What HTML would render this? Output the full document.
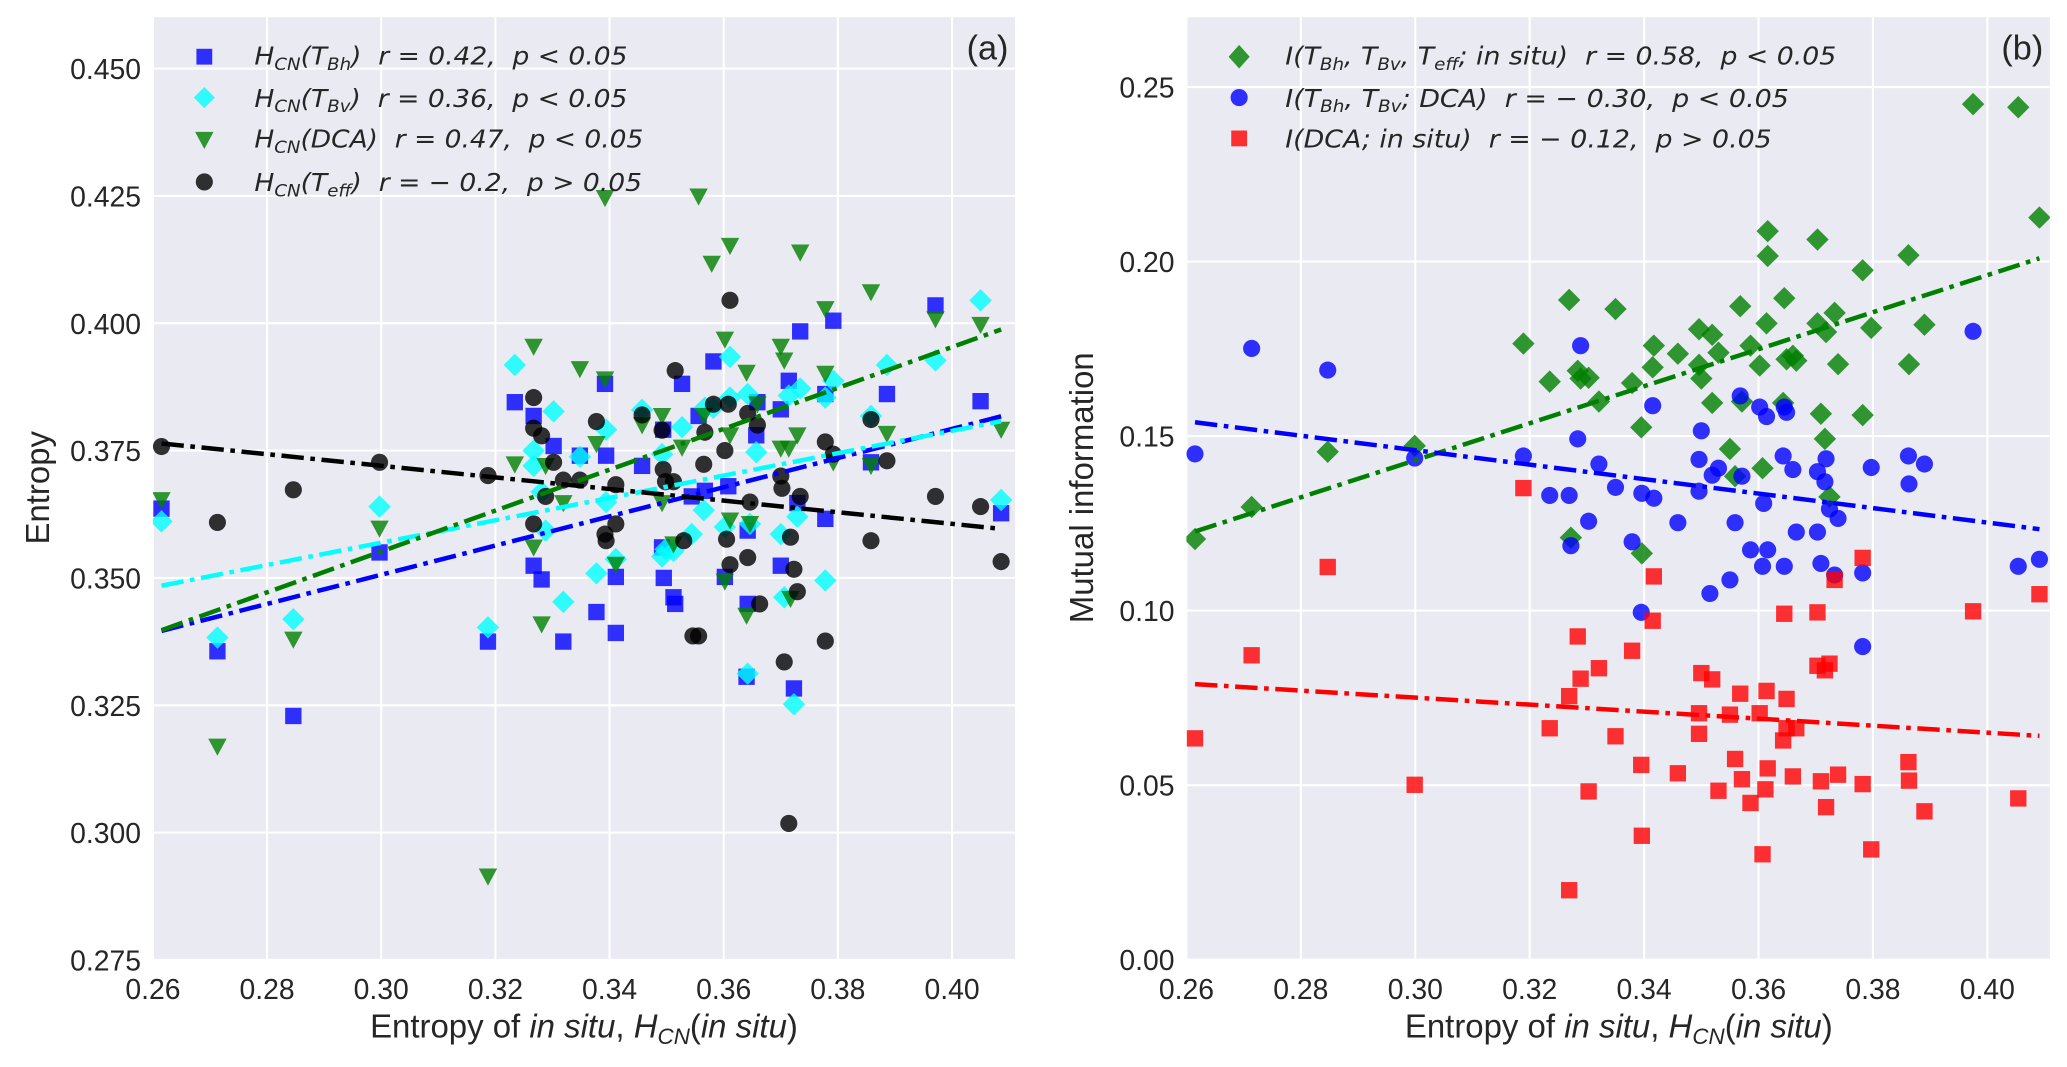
<!DOCTYPE html>
<html><head><meta charset="utf-8">
<style>
html,body{margin:0;padding:0;background:#fff;}
svg{display:block;}
text{font-family:"Liberation Sans",sans-serif;fill:#262626;}
.lg{font-family:"DejaVu Sans","Liberation Sans",sans-serif;font-style:italic;font-size:19px;fill:#262626;white-space:pre;}
.tk{font-size:21.5px;}
.al{font-size:25px;}
</style></head>
<body>
<svg id="fig" width="2067" height="1067" viewBox="0 0 1568 809.4" xmlns="http://www.w3.org/2000/svg">
<defs>
<clipPath id="clipL"><rect x="116" y="13" width="654" height="715"/></clipPath>
<clipPath id="clipR"><rect x="900" y="13" width="655" height="715"/></clipPath>
</defs>
<rect x="116" y="13" width="654" height="715" fill="#eaeaf2"/>
<rect x="900" y="13" width="655" height="715" fill="#eaeaf2"/>
<g id="gridL"></g>
<g id="gridR"></g>
<g id="ticksL"></g>
<g id="ticksR"></g>
<g id="ptsL" clip-path="url(#clipL)"></g>
<g id="ptsR" clip-path="url(#clipR)"></g>
<g id="linesL" clip-path="url(#clipL)"></g>
<g id="linesR" clip-path="url(#clipR)"></g>

<text x="765" y="45" text-anchor="end" font-size="26">(a)</text>
<text x="1550" y="45" text-anchor="end" font-size="26">(b)</text>

<text class="al" x="443" y="787" text-anchor="middle">Entropy of <tspan font-style="italic">in situ</tspan>, <tspan font-style="italic">H</tspan><tspan font-style="italic" font-size="17" dy="5">CN</tspan><tspan dy="-5">(</tspan><tspan font-style="italic">in situ</tspan>)</text>
<text class="al" x="1228" y="787" text-anchor="middle">Entropy of <tspan font-style="italic">in situ</tspan>, <tspan font-style="italic">H</tspan><tspan font-style="italic" font-size="17" dy="5">CN</tspan><tspan dy="-5">(</tspan><tspan font-style="italic">in situ</tspan>)</text>
<text class="al" transform="translate(37,370) rotate(-90)" text-anchor="middle">Entropy</text>
<text class="al" transform="translate(829,370) rotate(-90)" text-anchor="middle">Mutual information</text>

<g>
 <g>
  <rect x="149" y="37" width="12" height="12" fill="#0000ff" fill-opacity="0.8"/>
  <text class="lg" x="193" y="49" textLength="283" lengthAdjust="spacingAndGlyphs">H<tspan font-size="13" dy="4">CN</tspan><tspan dy="-4">(T</tspan><tspan font-size="13" dy="4">Bh</tspan><tspan dy="-4">)&#160;&#160;r = 0.42,&#160;&#160;p &lt; 0.05</tspan></text>
 </g>
 <g>
  <polygon points="155,66 163,74 155,82 147,74" fill="#00ffff" fill-opacity="0.8"/>
  <text class="lg" x="193" y="81" textLength="283" lengthAdjust="spacingAndGlyphs">H<tspan font-size="13" dy="4">CN</tspan><tspan dy="-4">(T</tspan><tspan font-size="13" dy="4">Bv</tspan><tspan dy="-4">)&#160;&#160;r = 0.36,&#160;&#160;p &lt; 0.05</tspan></text>
 </g>
 <g>
  <polygon points="148,100 162,100 155,113" fill="#008000" fill-opacity="0.8"/>
  <text class="lg" x="193" y="112" textLength="295" lengthAdjust="spacingAndGlyphs">H<tspan font-size="13" dy="4">CN</tspan><tspan dy="-4">(DCA)&#160;&#160;r = 0.47,&#160;&#160;p &lt; 0.05</tspan></text>
 </g>
 <g>
  <circle cx="155" cy="138" r="6.5" fill="#000" fill-opacity="0.8"/>
  <text class="lg" x="193" y="145" textLength="294" lengthAdjust="spacingAndGlyphs">H<tspan font-size="13" dy="4">CN</tspan><tspan dy="-4">(T</tspan><tspan font-size="13" dy="4">eff</tspan><tspan dy="-4">)&#160;&#160;r = − 0.2,&#160;&#160;p &gt; 0.05</tspan></text>
 </g>
</g>
<g>
 <g>
  <polygon points="940,34 948,43 940,52 932,43" fill="#008000" fill-opacity="0.8"/>
  <text class="lg" x="975" y="49" textLength="418" lengthAdjust="spacingAndGlyphs">I(T<tspan font-size="13" dy="4">Bh</tspan><tspan dy="-4">, T</tspan><tspan font-size="13" dy="4">Bv</tspan><tspan dy="-4">, T</tspan><tspan font-size="13" dy="4">eff</tspan><tspan dy="-4">; in situ)&#160;&#160;r = 0.58,&#160;&#160;p &lt; 0.05</tspan></text>
 </g>
 <g>
  <circle cx="940" cy="74" r="6.5" fill="#0000ff" fill-opacity="0.8"/>
  <text class="lg" x="975" y="81" textLength="382" lengthAdjust="spacingAndGlyphs">I(T<tspan font-size="13" dy="4">Bh</tspan><tspan dy="-4">, T</tspan><tspan font-size="13" dy="4">Bv</tspan><tspan dy="-4">; DCA)&#160;&#160;r = − 0.30,&#160;&#160;p &lt; 0.05</tspan></text>
 </g>
 <g>
  <rect x="934" y="99" width="12" height="12" fill="#ff0000" fill-opacity="0.8"/>
  <text class="lg" x="975" y="112" textLength="369" lengthAdjust="spacingAndGlyphs">I(DCA; in situ)&#160;&#160;r = − 0.12,&#160;&#160;p &gt; 0.05</text>
 </g>
</g>

<script>
// ---------- Panel (a) data ----------
const xTicksA = [0.26,0.28,0.30,0.32,0.34,0.36,0.38,0.40];
const xTickLabelsA = ["0.26","0.28","0.30","0.32","0.34","0.36","0.38","0.40"];
const yTicksA = [0.275,0.300,0.325,0.350,0.375,0.400,0.425,0.450];
const yTickLabelsA = ["0.275","0.300","0.325","0.350","0.375","0.400","0.425","0.450"];

const tbhX = [0.2615,0.2713,0.2846,0.2997,0.3187,0.3234,0.3267,0.3267,0.3281,0.3302,0.3319,0.3348,0.3377,0.3392,0.3394,0.3411,0.3411,0.3457,0.3492,0.3494,0.3495,0.3512,0.3515,0.3527,0.3556,0.3544,0.3567,0.3582,0.3602,0.3608,0.3642,0.3640,0.3642,0.3657,0.3659,0.3700,0.3700,0.3714,0.3723,0.3729,0.3734,0.3778,0.3778,0.3792,0.3858,0.3886,0.3971,0.4050,0.4086];
const tbhY = [0.3636,0.3356,0.3229,0.3550,0.3375,0.3845,0.3818,0.3524,0.3497,0.3759,0.3375,0.3740,0.3433,0.3881,0.3740,0.3502,0.3392,0.3720,0.3560,0.3791,0.3500,0.3462,0.3449,0.3881,0.3818,0.3660,0.3671,0.3925,0.3502,0.3680,0.3593,0.3306,0.3449,0.3780,0.3845,0.3831,0.3524,0.3887,0.3283,0.3647,0.3984,0.3616,0.3861,0.4005,0.3727,0.3861,0.4035,0.3847,0.3627];

const tbvX = [0.2615,0.2713,0.2846,0.2997,0.3187,0.3234,0.3267,0.3267,0.3281,0.3288,0.3302,0.3319,0.3348,0.3377,0.3394,0.3394,0.3411,0.3457,0.3492,0.3492,0.3498,0.3512,0.3527,0.3544,0.3565,0.3567,0.3582,0.3602,0.3611,0.3611,0.3642,0.3642,0.3646,0.3657,0.3700,0.3706,0.3714,0.3723,0.3729,0.3734,0.3778,0.3778,0.3792,0.3858,0.3886,0.3971,0.4050,0.4086];
const tbvY = [0.3611,0.3383,0.3419,0.3640,0.3403,0.3918,0.3750,0.3720,0.3669,0.3593,0.3827,0.3453,0.3738,0.3509,0.3649,0.3791,0.3537,0.3830,0.3743,0.3542,0.3556,0.3553,0.3796,0.3586,0.3633,0.3834,0.3834,0.3600,0.3934,0.3854,0.3861,0.3312,0.3606,0.3747,0.3586,0.3462,0.3858,0.3252,0.3620,0.3872,0.3495,0.3854,0.3887,0.3818,0.3918,0.3927,0.4045,0.3653];

const dcaX = [0.2615,0.2713,0.2846,0.2997,0.3187,0.3234,0.3267,0.3267,0.3281,0.3288,0.3319,0.3348,0.3377,0.3392,0.3392,0.3411,0.3457,0.3492,0.3492,0.3512,0.3527,0.3556,0.3565,0.3579,0.3602,0.3602,0.3611,0.3611,0.3611,0.3640,0.3640,0.3646,0.3659,0.3700,0.3700,0.3706,0.3714,0.3717,0.3729,0.3734,0.3778,0.3778,0.3792,0.3858,0.3858,0.3886,0.3971,0.4050,0.4086];
const dcaY = [0.3653,0.3169,0.3379,0.3597,0.2914,0.3723,0.3954,0.3560,0.3409,0.3720,0.3647,0.3910,0.3763,0.4246,0.3890,0.3526,0.3800,0.3818,0.3647,0.3566,0.3756,0.4249,0.3818,0.4117,0.3968,0.3493,0.4152,0.3780,0.3613,0.3903,0.3426,0.3606,0.3841,0.3954,0.3754,0.3927,0.3754,0.3459,0.3780,0.4139,0.4028,0.3901,0.3727,0.4061,0.3720,0.3783,0.4008,0.3997,0.3791];

const teffX = [0.2615,0.2713,0.2846,0.2997,0.3187,0.3267,0.3267,0.3281,0.3288,0.3267,0.3302,0.3319,0.3348,0.3377,0.3392,0.3394,0.3411,0.3411,0.3457,0.3492,0.3494,0.3498,0.3515,0.3512,0.3530,0.3546,0.3556,0.3565,0.3567,0.3582,0.3602,0.3605,0.3608,0.3611,0.3611,0.3642,0.3642,0.3646,0.3659,0.3663,0.3700,0.3702,0.3706,0.3714,0.3717,0.3723,0.3729,0.3734,0.3778,0.3778,0.3792,0.3858,0.3858,0.3886,0.3971,0.4050,0.4086];
const teffY = [0.3758,0.3609,0.3673,0.3727,0.3701,0.3854,0.3794,0.3779,0.3660,0.3606,0.3727,0.3692,0.3692,0.3807,0.3586,0.3573,0.3683,0.3606,0.3820,0.3790,0.3713,0.3689,0.3907,0.3689,0.3573,0.3386,0.3386,0.3723,0.3786,0.3841,0.3750,0.3576,0.3841,0.4045,0.3526,0.3823,0.3540,0.3649,0.3800,0.3449,0.3700,0.3676,0.3335,0.3018,0.3580,0.3517,0.3473,0.3660,0.3767,0.3376,0.3743,0.3811,0.3573,0.3730,0.3660,0.3640,0.3532];

// ---------- Panel (b) data ----------
const xTicksB = [0.26,0.28,0.30,0.32,0.34,0.36,0.38,0.40];
const xTickLabelsB = ["0.26","0.28","0.30","0.32","0.34","0.36","0.38","0.40"];
const yTicksB = [0.00,0.05,0.10,0.15,0.20,0.25];
const yTickLabelsB = ["0.00","0.05","0.10","0.15","0.20","0.25"];

const miInsituX = [0.2615,0.2714,0.2847,0.2999,0.3189,0.3235,0.3269,0.3272,0.3284,0.3289,0.3303,0.3321,0.3350,0.3379,0.3395,0.3396,0.3415,0.3417,0.3459,0.3496,0.3496,0.3500,0.3519,0.3530,0.3519,0.3550,0.3559,0.3568,0.3571,0.3586,0.3602,0.3607,0.3614,0.3616,0.3616,0.3645,0.3649,0.3643,0.3660,0.3666,0.3703,0.3703,0.3709,0.3716,0.3718,0.3724,0.3733,0.3739,0.3782,0.3782,0.3797,0.3862,0.3863,0.3890,0.3975,0.4054,0.4091];
const miInsituY = [0.1205,0.1297,0.1455,0.1472,0.1765,0.1656,0.1890,0.1209,0.1687,0.1665,0.1667,0.1599,0.1864,0.1652,0.1525,0.1164,0.1697,0.1759,0.1736,0.1806,0.1704,0.1665,0.1790,0.1739,0.1595,0.1463,0.1385,0.1872,0.1599,0.1759,0.1702,0.1408,0.1823,0.2087,0.2016,0.1895,0.1720,0.1595,0.1730,0.1716,0.2063,0.1823,0.1564,0.1492,0.1798,0.1326,0.1853,0.1706,0.1975,0.1560,0.1810,0.2018,0.1706,0.1819,0.2451,0.2442,0.2126];

const miDcaX = [0.2615,0.2714,0.2847,0.2999,0.3189,0.3235,0.3269,0.3272,0.3284,0.3289,0.3303,0.3321,0.3350,0.3379,0.3395,0.3396,0.3415,0.3417,0.3459,0.3496,0.3496,0.3500,0.3519,0.3515,0.3530,0.3550,0.3559,0.3568,0.3571,0.3586,0.3602,0.3607,0.3609,0.3614,0.3616,0.3645,0.3649,0.3643,0.3645,0.3660,0.3666,0.3703,0.3703,0.3709,0.3716,0.3718,0.3724,0.3733,0.3739,0.3782,0.3782,0.3797,0.3862,0.3863,0.3890,0.3975,0.4054,0.4091];
const miDcaY = [0.1449,0.1751,0.1689,0.1437,0.1443,0.1330,0.1330,0.1186,0.1492,0.1759,0.1256,0.1420,0.1353,0.1197,0.0995,0.1336,0.1587,0.1322,0.1252,0.1433,0.1342,0.1515,0.1388,0.1049,0.1408,0.1088,0.1252,0.1615,0.1385,0.1174,0.1583,0.1127,0.1307,0.1556,0.1174,0.1583,0.1568,0.1443,0.1127,0.1404,0.1225,0.1398,0.1225,0.1135,0.1369,0.1435,0.1291,0.1102,0.1264,0.1108,0.0897,0.1410,0.1443,0.1363,0.1420,0.1800,0.1127,0.1147];

const miDcaInsituX = [0.2615,0.2714,0.2847,0.2999,0.3189,0.3235,0.3269,0.3269,0.3284,0.3289,0.3303,0.3321,0.3350,0.3379,0.3395,0.3396,0.3415,0.3417,0.3459,0.3496,0.3496,0.3500,0.3519,0.3530,0.3550,0.3559,0.3568,0.3571,0.3586,0.3602,0.3607,0.3614,0.3616,0.3612,0.3645,0.3649,0.3643,0.3649,0.3660,0.3666,0.3703,0.3703,0.3709,0.3716,0.3718,0.3724,0.3733,0.3739,0.3782,0.3782,0.3797,0.3862,0.3863,0.3890,0.3975,0.4054,0.4091];
const miDcaInsituY = [0.0634,0.0872,0.1125,0.0501,0.1351,0.0663,0.0755,0.0199,0.0926,0.0805,0.0482,0.0835,0.0640,0.0885,0.0558,0.0355,0.0971,0.1098,0.0534,0.0706,0.0647,0.0821,0.0803,0.0484,0.0702,0.0575,0.0762,0.0517,0.0449,0.0706,0.0302,0.0770,0.0548,0.0488,0.0991,0.0747,0.0628,0.0663,0.0525,0.0663,0.0995,0.0842,0.0511,0.0829,0.0437,0.0848,0.1088,0.0530,0.1151,0.0503,0.0316,0.0566,0.0513,0.0425,0.0998,0.0462,0.1047];

// ---------- axis functions ----------
const NS = "http://www.w3.org/2000/svg";
const xA = v => 116 + (v - 0.26) / 0.02 * 86.6;
const yA = v => 52 + (0.45 - v) / 0.025 * 96.6;
const xB = v => 900 + (v - 0.26) / 0.02 * 86.8;
const yB = v => 66 + (0.25 - v) / 0.05 * 132.4;

function mk(tag, attrs, parent) {
  const e = document.createElementNS(NS, tag);
  for (const k in attrs) e.setAttribute(k, attrs[k]);
  parent.appendChild(e);
  return e;
}

function drawAxes(gridId, tickId, xt, xl, yt, yl, fx, fy, x0, x1, y0, y1, prefix) {
  const g = document.getElementById(gridId);
  const t = document.getElementById(tickId);
  xt.forEach((v, i) => {
    const X = fx(v);
    const ln = mk('line', {x1: X, x2: X, y1: y0, y2: y1, stroke: '#fff', 'stroke-width': 1.6}, g);
    
    
    const tx = mk('text', {x: X, y: 758, 'text-anchor': 'middle', class: 'tk'}, t);
    tx.textContent = xl[i];
    
    
  });
  yt.forEach((v, i) => {
    const Y = fy(v);
    const ln = mk('line', {x1: x0, x2: x1, y1: Y, y2: Y, stroke: '#fff', 'stroke-width': 1.6}, g);
    
    
    const tx = mk('text', {x: x0 - 9, y: Y + 8, 'text-anchor': 'end', class: 'tk'}, t);
    tx.textContent = yl[i];
    
    
  });
}
drawAxes('gridL', 'ticksL', xTicksA, xTickLabelsA, yTicksA, yTickLabelsA, xA, yA, 116, 770, 13, 728, 'panel-a');
drawAxes('gridR', 'ticksR', xTicksB, xTickLabelsB, yTicksB, yTickLabelsB, xB, yB, 900, 1555, 13, 728, 'panel-b');

function marker(shape, cx, cy, color, parent) {
  let e;
  if (shape === 'square') e = mk('rect', {x: cx - 6.2, y: cy - 6.2, width: 12.4, height: 12.4}, parent);
  else if (shape === 'circle') e = mk('circle', {cx: cx, cy: cy, r: 6.5}, parent);
  else if (shape === 'diamond') e = mk('polygon', {points: `${cx},${cy-8.5} ${cx+8.5},${cy} ${cx},${cy+8.5} ${cx-8.5},${cy}`}, parent);
  else e = mk('polygon', {points: `${cx-7},${cy-6} ${cx+7},${cy-6} ${cx},${cy+7}`}, parent);
  e.setAttribute('fill', color);
  e.setAttribute('fill-opacity', '0.8');
  return e;
}

function drawSeries(parentId, xs, ys, fx, fy, shape, color, name) {
  const p = document.getElementById(parentId);
  xs.forEach((v, i) => {
    const e = marker(shape, fx(v), fy(ys[i]), color, p);
    
    
  });
}

function drawFit(parentId, xs, ys, fx, fy, color, name) {
  const n = xs.length;
  let mx = 0, my = 0;
  xs.forEach((v, i) => { mx += v; my += ys[i]; });
  mx /= n; my /= n;
  let sxy = 0, sxx = 0;
  xs.forEach((v, i) => { sxy += (v - mx) * (ys[i] - my); sxx += (v - mx) * (v - mx); });
  const b = sxy / sxx, a = my - b * mx;
  const lo = Math.min(...xs), hi = Math.max(...xs);
  const l = mk('line', {x1: fx(lo), y1: fy(a + b * lo), x2: fx(hi), y2: fy(a + b * hi),
    stroke: color, 'stroke-width': 3.4, 'stroke-dasharray': '17 5 3.5 5'}, document.getElementById(parentId));
  
  
}

drawSeries('ptsL', tbhX, tbhY, xA, yA, 'square', '#0000ff', 'tbh');
drawSeries('ptsL', tbvX, tbvY, xA, yA, 'diamond', '#00ffff', 'tbv');
drawSeries('ptsL', dcaX, dcaY, xA, yA, 'triangle', '#008000', 'dca');
drawSeries('ptsL', teffX, teffY, xA, yA, 'circle', '#000000', 'teff');
drawFit('linesL', tbhX, tbhY, xA, yA, '#0000ff', 'tbh');
drawFit('linesL', tbvX, tbvY, xA, yA, '#00ffff', 'tbv');
drawFit('linesL', dcaX, dcaY, xA, yA, '#008000', 'dca');
drawFit('linesL', teffX, teffY, xA, yA, '#000000', 'teff');

drawSeries('ptsR', miInsituX, miInsituY, xB, yB, 'diamond', '#008000', 'mi-insitu');
drawSeries('ptsR', miDcaX, miDcaY, xB, yB, 'circle', '#0000ff', 'mi-dca');
drawSeries('ptsR', miDcaInsituX, miDcaInsituY, xB, yB, 'square', '#ff0000', 'mi-dca-insitu');
drawFit('linesR', miInsituX, miInsituY, xB, yB, '#008000', 'mi-insitu');
drawFit('linesR', miDcaX, miDcaY, xB, yB, '#0000ff', 'mi-dca');
drawFit('linesR', miDcaInsituX, miDcaInsituY, xB, yB, '#ff0000', 'mi-dca-insitu');
</script>
</svg>
</body></html>
